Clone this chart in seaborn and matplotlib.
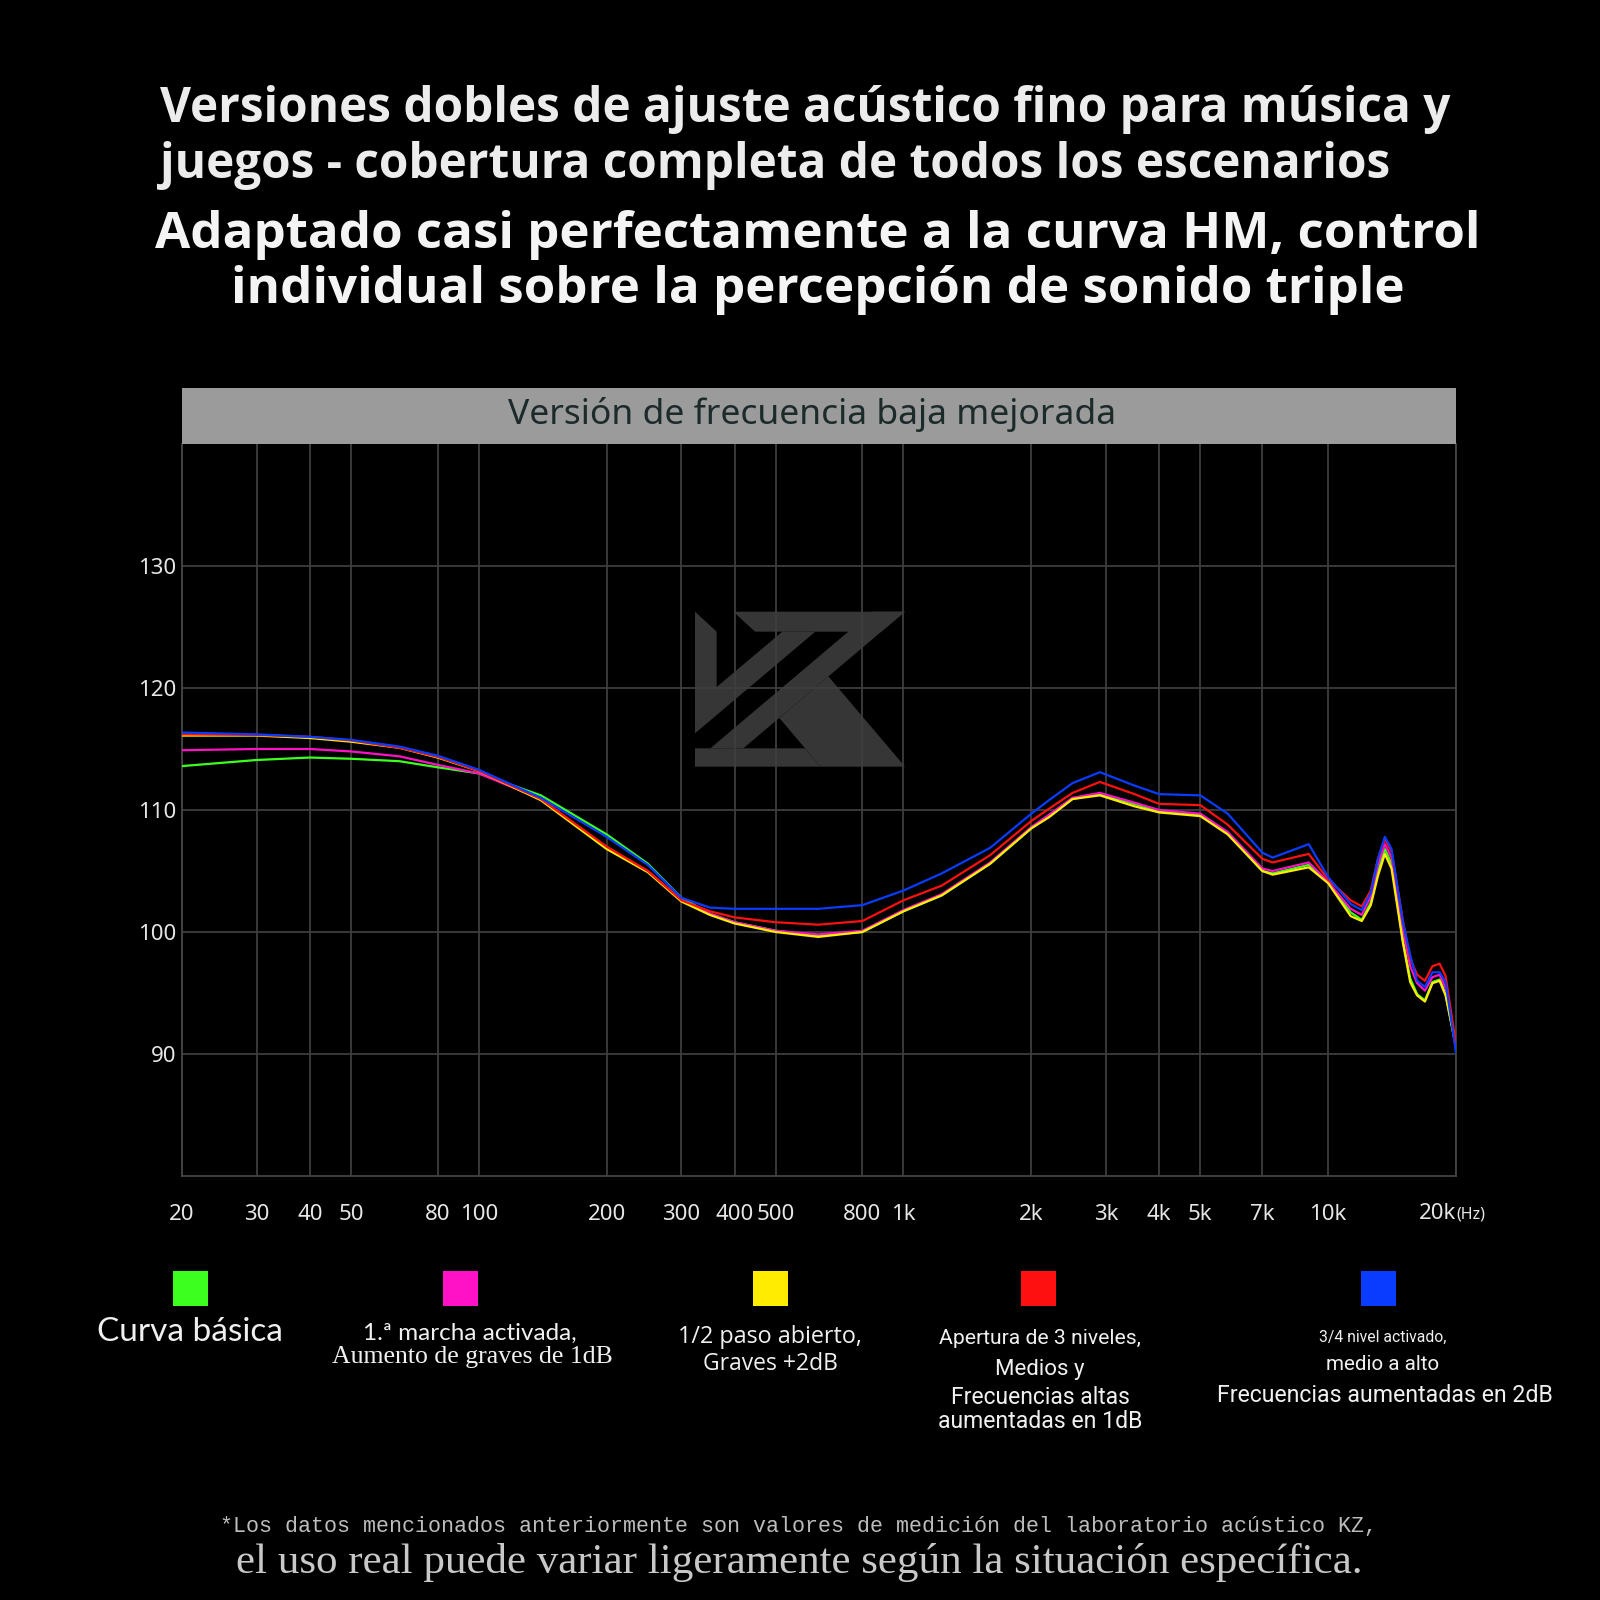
"""Frequency response chart (KZ, bass-enhanced version)."""

import pandas as pd
import matplotlib
matplotlib.use("Agg")
import matplotlib.pyplot as plt
from matplotlib.patches import Rectangle, Polygon
from matplotlib.ticker import NullLocator
import seaborn as sns

# ---- data ------------------------------------------------------------------
freq_hz = [20, 30, 40, 50, 65, 80, 100, 140, 200, 250, 300, 350, 400, 500, 630,
           800, 1000, 1230, 1600, 2000, 2200, 2500, 2900, 3500, 4000, 5000,
           5800, 7000, 7400, 9000, 10000, 11300, 12000, 12600, 13100, 13600,
           14100, 15000, 15600, 16200, 16900, 17600, 18300, 18900, 20000]

curva_basica = [113.6, 114.1, 114.3, 114.2, 114.0, 113.5, 113.0, 111.2, 108.0, 105.6,
                102.8, 101.5, 100.8, 100.1, 99.7, 100.0, 101.7, 103.0, 105.6, 108.5,
                109.5, 110.9, 111.3, 110.5, 109.9, 109.6, 108.1, 105.0, 104.8, 105.5,
                104.1, 101.6, 101.0, 102.4, 105.0, 106.8, 105.6, 99.3, 96.2, 94.9,
                94.4, 95.9, 96.1, 94.9, 90.6]
marcha_1 = [114.9, 115.0, 115.0, 114.8, 114.4, 113.7, 113.0, 110.9, 106.9, 105.0,
            102.6, 101.5, 100.8, 100.1, 99.8, 100.1, 101.8, 103.1, 105.7, 108.6,
            109.6, 111.0, 111.4, 110.6, 110.0, 109.7, 108.2, 105.2, 105.0, 105.7,
            104.1, 101.9, 101.4, 102.9, 105.5, 107.2, 106.1, 100.2, 97.2, 95.8,
            95.2, 96.3, 96.5, 95.4, 90.7]
paso_2 = [116.1, 116.1, 115.9, 115.6, 115.1, 114.3, 113.2, 110.8, 106.8, 104.9,
          102.5, 101.4, 100.7, 100.0, 99.6, 100.0, 101.7, 103.0, 105.6, 108.5,
          109.4, 110.9, 111.2, 110.3, 109.8, 109.5, 108.0, 105.0, 104.7, 105.3,
          104.0, 101.3, 100.9, 102.2, 104.6, 106.4, 105.2, 99.1, 95.9, 94.8,
          94.3, 95.8, 96.0, 94.8, 90.6]
nivel_3 = [116.2, 116.15, 116.0, 115.7, 115.1, 114.35, 113.2, 110.9, 107.0, 105.0,
           102.6, 101.7, 101.2, 100.8, 100.6, 100.9, 102.6, 103.8, 106.3, 109.1,
           110.1, 111.4, 112.3, 111.3, 110.5, 110.4, 108.8, 106.0, 105.7, 106.4,
           104.3, 102.6, 102.1, 103.4, 106.0, 107.6, 106.6, 100.9, 97.8, 96.5,
           96.0, 97.2, 97.4, 96.4, 90.8]
nivel_4 = [116.35, 116.2, 116.0, 115.75, 115.2, 114.45, 113.3, 111.0, 107.8, 105.5,
           102.8, 102.0, 101.9, 101.9, 101.9, 102.2, 103.4, 104.8, 106.9, 109.7,
           110.8, 112.2, 113.1, 112.0, 111.3, 111.2, 109.7, 106.5, 106.1, 107.2,
           104.5, 102.3, 101.8, 103.2, 106.0, 107.8, 106.8, 100.8, 98.1, 96.0,
           95.5, 96.7, 96.7, 95.9, 90.1]

series_names = ["basica", "marcha1", "paso2", "nivel3", "nivel4"]
series_colors = ["#3dff1f", "#ff12c6", "#ffec00", "#ff1010", "#0a3cff"]

tick_freqs = [20, 30, 40, 50, 80, 100, 200, 300, 400, 500, 800, 1000,
              2000, 3000, 4000, 5000, 7000, 10000, 20000]
tick_labels = ["20", "30", "40", "50", "80", "100", "200", "300", "400", "500",
               "800", "1k", "2k", "3k", "4k", "5k", "7k", "10k", ""]
y_ticks = [90, 100, 110, 120, 130]

W = H = 1600


def fx(px):
    return px / W


def fy(py):
    return 1 - py / H


sns.set_theme(style="dark")
plt.rcParams["font.family"] = ["Open Sans", "Noto Sans", "DejaVu Sans"]

fig = plt.figure(figsize=(16, 16), dpi=100, facecolor="black")

# ---- titles -----------------------------------------------------------------
title_font = ["Open Sans", "Noto Sans", "DejaVu Sans"]
fig.text(fx(160), fy(122), "Versiones dobles de ajuste acústico fino para música y",
         color="#ececec", fontsize=34.4, fontweight="bold", family=title_font,
         ha="left", va="baseline")
fig.text(fx(160), fy(178), "juegos - cobertura completa de todos los escenarios",
         color="#ececec", fontsize=34.4, fontweight="bold", family=title_font,
         ha="left", va="baseline")
fig.text(fx(818), fy(248), "Adaptado casi perfectamente a la curva HM, control",
         color="#f4f4f4", fontsize=36.8, fontweight="bold", family=title_font,
         ha="center", va="baseline")
fig.text(fx(818), fy(303), "individual sobre la percepción de sonido triple",
         color="#f4f4f4", fontsize=36.8, fontweight="bold", family=title_font,
         ha="center", va="baseline")

# ---- plot area --------------------------------------------------------------
ax = fig.add_axes([fx(182), fy(1176), fx(1456) - fx(182), fy(444) - fy(1176)])
ax.set_facecolor("black")

df = pd.DataFrame({"freq": freq_hz, "basica": curva_basica, "marcha1": marcha_1,
                   "paso2": paso_2, "nivel3": nivel_3, "nivel4": nivel_4})
long_df = df.melt(id_vars="freq", var_name="serie", value_name="spl")

sns.lineplot(data=long_df, x="freq", y="spl", hue="serie", hue_order=series_names,
             palette=dict(zip(series_names, series_colors)), estimator=None,
             linewidth=1.6, legend=False, ax=ax, zorder=3)

ax.set_xscale("log")
ax.set_xlim(20, 20000)
ax.set_ylim(80, 140)
ax.set_xticks(tick_freqs)
ax.set_xticklabels(tick_labels)
ax.xaxis.set_minor_locator(NullLocator())
ax.set_yticks(y_ticks)
ax.set_yticklabels([str(v) for v in y_ticks])
ax.set_xlabel("")
ax.set_ylabel("")
ax.grid(True, which="major", color="#3e3e3e", linewidth=1.3)
ax.set_axisbelow(True)
ax.tick_params(axis="both", length=0, colors="#e6e6e6", labelsize=16)
ax.tick_params(axis="x", pad=20)
ax.tick_params(axis="y", pad=4)
for lab in ax.get_xticklabels() + ax.get_yticklabels():
    lab.set_fontfamily(["Noto Sans", "DejaVu Sans"])
for side in ["left", "bottom", "right"]:
    ax.spines[side].set_visible(True)
    ax.spines[side].set_color("#444444")
    ax.spines[side].set_linewidth(1.3)
ax.spines["top"].set_visible(False)

# 20k(Hz) label
ax.text(1.0, -0.0515, "20k", transform=ax.transAxes, color="#e6e6e6", fontsize=16,
        ha="right", va="center", family=["Noto Sans", "DejaVu Sans"])
ax.text(1.0, -0.0525, "(Hz)", transform=ax.transAxes, color="#e6e6e6", fontsize=11.5,
        ha="left", va="center", family=["Noto Sans", "DejaVu Sans"])


# KZ watermark, outline
def logo_pts(pts):
    return [(fx(685 + px / 3), fy(600 + py / 3)) for px, py in pts]


logo_shapes = [
    [(30, 35), (95, 95), (95, 261), (292, 95), (391, 95), (30, 400)],
    [(145, 35), (660, 35), (589, 95), (210, 95)],
    [(561, 35), (660, 35), (175, 445), (76, 445)],
    [(30, 445), (360, 445), (407, 500), (30, 500)],
    [(283, 354), (430, 229), (660, 500), (407, 500)],
]
for shp in logo_shapes:
    ax.add_patch(Polygon(logo_pts(shp), closed=True, transform=fig.transFigure,
                         facecolor="#363636", edgecolor="none", zorder=0.2))

# header band
fig.patches.append(Rectangle((fx(182), fy(444)), fx(1456) - fx(182), fy(388) - fy(444),
                             transform=fig.transFigure, facecolor="#9b9b9b",
                             edgecolor="none"))
fig.text(fx(812), fy(415), "Versión de frecuencia baja mejorada", color="#1d2a2a",
         fontsize=25.5, family=["Noto Sans", "DejaVu Sans"], ha="center", va="center")

# ---- legend -----------------------------------------------------------------
legend_x = [190, 460, 770, 1038, 1378]
for cx, col in zip(legend_x, series_colors):
    fig.patches.append(Rectangle((fx(cx - 17), fy(1306)), fx(35), fx(35),
                                 transform=fig.transFigure, facecolor=col,
                                 edgecolor="none"))

txt = dict(color="#f0f0f0", ha="center", va="center")
fig.text(fx(190), fy(1332), "Curva básica", fontsize=24, family=["Lato", "DejaVu Sans"], **txt)
fig.text(fx(470), fy(1333), "1.ª marcha activada,", fontsize=17.5, family=["Lato", "DejaVu Sans"], **txt)
fig.text(fx(472), fy(1357), "Aumento de graves de 1dB", fontsize=18.5,
         family=["Liberation Serif", "DejaVu Serif"], **txt)
fig.text(fx(770), fy(1337), "1/2 paso abierto,", fontsize=16.8, family=["Open Sans", "DejaVu Sans"], **txt)
fig.text(fx(770), fy(1364), "Graves +2dB", fontsize=16.5, family=["Open Sans", "DejaVu Sans"], **txt)
fig.text(fx(1040), fy(1338), "Apertura de 3 niveles,", fontsize=15.2, family=["Roboto", "DejaVu Sans"], **txt)
fig.text(fx(1040), fy(1370), "Medios y", fontsize=16, family=["Roboto", "DejaVu Sans"], **txt)
fig.text(fx(1040), fy(1397), "Frecuencias altas", fontsize=16.5, family=["Roboto", "DejaVu Sans"], **txt)
fig.text(fx(1040), fy(1421), "aumentadas en 1dB", fontsize=16.6, family=["Roboto", "DejaVu Sans"], **txt)
fig.text(fx(1383), fy(1337), "3/4 nivel activado,", fontsize=11.3, family=["Roboto", "DejaVu Sans"], **txt)
fig.text(fx(1383), fy(1365), "medio a alto", fontsize=14.8, family=["Roboto", "DejaVu Sans"], **txt)
fig.text(fx(1385), fy(1395), "Frecuencias aumentadas en 2dB", fontsize=16.7,
         family=["Roboto", "DejaVu Sans"], **txt)

# ---- footer -----------------------------------------------------------------
fig.text(fx(799), fy(1526),
         "*Los datos mencionados anteriormente son valores de medición del laboratorio acústico KZ,",
         color="#bdbdbd", fontsize=15.6, family=["Liberation Mono", "DejaVu Sans Mono"],
         ha="center", va="center")
fig.text(fx(799), fy(1562), "el uso real puede variar ligeramente según la situación específica.",
         color="#c8c8c8", fontsize=31, family=["Liberation Serif", "DejaVu Serif"],
         ha="center", va="center")

fig.savefig("out.png", dpi=100, facecolor="black")
